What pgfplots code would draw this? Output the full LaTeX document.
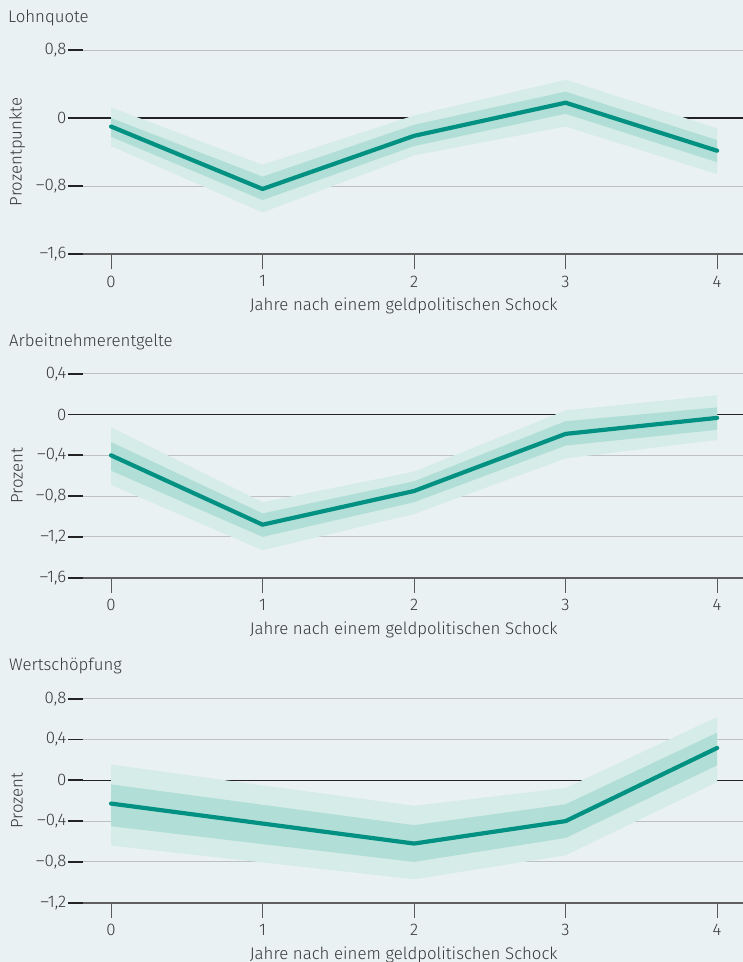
\documentclass[border=0pt]{standalone}
\usepackage{fontspec}
\setmainfont{Fira Sans Light}
\usepackage{pgfplots}
\usepackage{pgfplotstable}
\pgfplotsset{compat=1.18}

\definecolor{bg}{RGB}{233,241,242}
\definecolor{outerc}{RGB}{214,236,232}
\definecolor{innerc}{RGB}{177,222,214}
\definecolor{linec}{RGB}{0,145,130}
\definecolor{gridc}{RGB}{190,192,194}
\definecolor{zeroc}{RGB}{35,35,35}
\definecolor{axisc}{RGB}{95,95,95}
\definecolor{tickc}{RGB}{90,90,90}
\definecolor{textc}{RGB}{55,55,55}

\pgfplotstableread{
x m
0 -0.10
1 -0.835
2 -0.21
3 0.18
4 -0.385
}\tA
\pgfplotstableread{
x m
0 -0.40
1 -1.08
2 -0.75
3 -0.19
4 -0.033
}\tB
\pgfplotstableread{
x m
0 -0.228
1 -0.424
2 -0.62
3 -0.40
4 0.317
}\tC

\newcommand{\fs}{\fontsize{16.8}{19}\selectfont}

\pgfplotsset{
  panel/.style={
    scale only axis, width=660pt, height=204pt,
    xmin=-0.185, xmax=4.171,
    axis x line*=bottom, axis y line*=left,
    y axis line style={draw=none},
    x axis line style={-, draw=axisc, line width=1.6pt},
    xtick={0,1,2,3,4}, xticklabels={0,1,2,3,4},
    tick align=outside, major tick length=15pt,
    every major x tick/.append style={draw=tickc, line width=0.9pt},
    every major y tick/.append style={draw=zeroc, line width=1.8pt},
    ymajorgrids, grid style={draw=gridc, line width=0.9pt},
    extra y ticks={0}, extra y tick labels={0},
    extra y tick style={grid style={draw=zeroc, line width=1.1pt}},
    tick label style={font=\fs, text=textc},
    yticklabel style={inner sep=1.5pt},
    xticklabel style={inner sep=6.5pt},
    every axis x label/.style={at={(axis description cs:0.486,0)}, yshift=-52pt, anchor=center, font=\fs, text=textc},
    every axis y label/.style={at={(axis description cs:-0.1,0.5)}, rotate=90, anchor=center, font=\fs, text=textc},
    xlabel={Jahre nach einem geldpolitischen Schock},
  },
}

\begin{document}
\begin{tikzpicture}
\useasboundingbox (0,0) rectangle (743pt,-962pt);
\fill[bg] (0,0) rectangle (743pt,-962pt);

\node[anchor=base west, font=\fs, text=textc, inner sep=0pt] at (8pt,-22.7pt) {Lohnquote};
\node[anchor=base west, font=\fs, text=textc, inner sep=0pt] at (9pt,-346pt) {Arbeitnehmerentgelte};
\node[anchor=base west, font=\fs, text=textc, inner sep=0pt] at (9pt,-670.7pt) {Wertschöpfung};

% Panel 1
\begin{axis}[panel, at={(83pt,-254pt)}, anchor=south west,
  ymin=-1.6, ymax=0.8, ytick={0.8,-0.8,-1.6}, yticklabels={{0,8},{–0,8},{–1,6}},
  ylabel={Prozentpunkte}]
\addplot[fill=outerc, draw=none] coordinates {(0,0.125) (1,-0.55) (2,0.03) (3,0.45) (4,-0.12) (4,-0.66) (3,-0.10) (2,-0.44) (1,-1.11) (0,-0.33)} -- cycle;
\addplot[fill=innerc, draw=none] coordinates {(0,0.00) (1,-0.69) (2,-0.08) (3,0.31) (4,-0.26) (4,-0.52) (3,0.05) (2,-0.33) (1,-0.965) (0,-0.22)} -- cycle;
\addplot[linec, line width=4.2pt, line cap=round, line join=round] table[x=x,y=m]{\tA};
\end{axis}

% Panel 2
\begin{axis}[panel, at={(83pt,-577.7pt)}, anchor=south west,
  ymin=-1.6, ymax=0.4, ytick={0.4,-0.4,-0.8,-1.2,-1.6}, yticklabels={{0,4},{–0,4},{–0,8},{–1,2},{–1,6}},
  ylabel={Prozent}]
\addplot[fill=outerc, draw=none] coordinates {(0,-0.125) (1,-0.86) (2,-0.56) (3,0.04) (4,0.19) (4,-0.25) (3,-0.43) (2,-0.975) (1,-1.33) (0,-0.69)} -- cycle;
\addplot[fill=innerc, draw=none] coordinates {(0,-0.27) (1,-0.97) (2,-0.655) (3,-0.066) (4,0.07) (4,-0.15) (3,-0.305) (2,-0.86) (1,-1.20) (0,-0.55)} -- cycle;
\addplot[linec, line width=4.2pt, line cap=round, line join=round] table[x=x,y=m]{\tB};
\end{axis}

% Panel 3
\begin{axis}[panel, at={(83pt,-902.7pt)}, anchor=south west,
  ymin=-1.2, ymax=0.8, ytick={0.8,0.4,-0.4,-0.8,-1.2}, yticklabels={{0,8},{0,4},{–0,4},{–0,8},{–1,2}},
  ylabel={Prozent}]
\addplot[fill=outerc, draw=none] coordinates {(0,0.155) (1,-0.05) (2,-0.25) (3,-0.075) (4,0.62) (4,-0.017) (3,-0.735) (2,-0.97) (1,-0.805) (0,-0.64)} -- cycle;
\addplot[fill=innerc, draw=none] coordinates {(0,-0.04) (1,-0.24) (2,-0.44) (3,-0.235) (4,0.467) (4,0.147) (3,-0.565) (2,-0.80) (1,-0.625) (0,-0.45)} -- cycle;
\addplot[linec, line width=4.2pt, line cap=round, line join=round] table[x=x,y=m]{\tC};
\end{axis}
\end{tikzpicture}
\end{document}
